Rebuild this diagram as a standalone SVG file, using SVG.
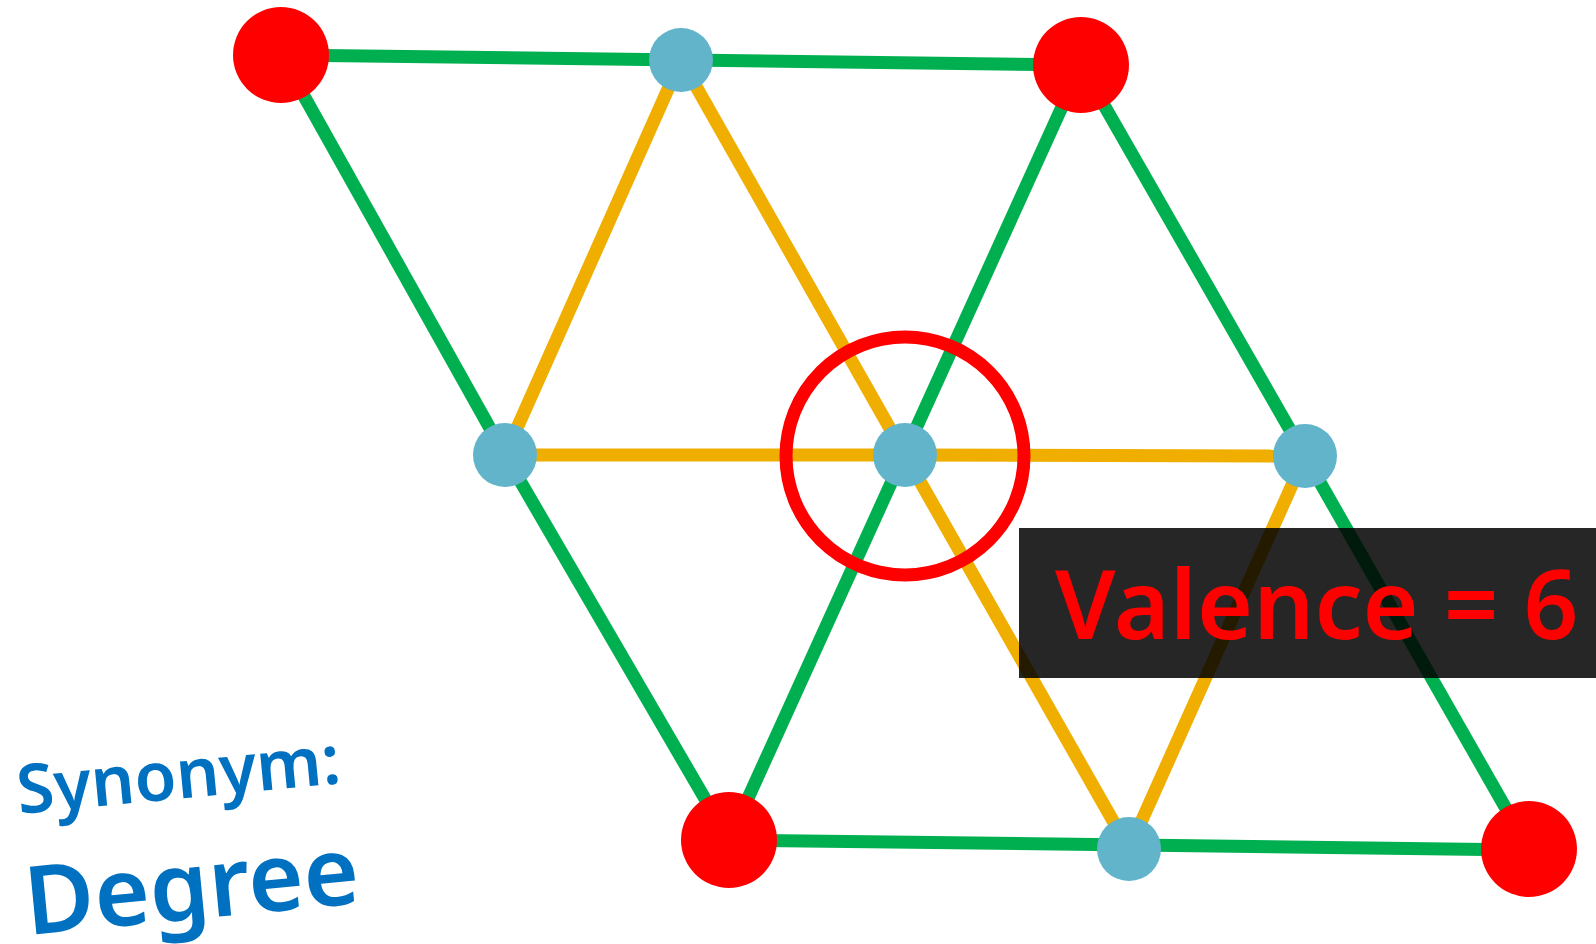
<svg xmlns="http://www.w3.org/2000/svg" width="1596" height="944" viewBox="0 0 1596 944">
<style>
.g{stroke:#00B050;stroke-width:13;fill:none}
.y{stroke:#F0AE00;stroke-width:13;fill:none}
.r{fill:#FF0000}
.b{fill:#62B4CB}
.t{font-family:"Noto Sans","Open Sans","DejaVu Sans",sans-serif;font-weight:600}
.lbl{fill:#0070C0}
</style>
<rect width="1596" height="944" fill="#FFFFFF"/>
<g id="connectors">
<line class="g" x1="281" y1="55" x2="1081" y2="65"/>
<line class="g" x1="281" y1="55" x2="505" y2="455"/>
<line class="g" x1="505" y1="455" x2="729" y2="840"/>
<line class="g" x1="1081" y1="65" x2="729" y2="840"/>
<line class="g" x1="1081" y1="65" x2="1305" y2="456"/>
<line class="g" x1="1305" y1="456" x2="1529" y2="849"/>
<line class="g" x1="729" y1="840" x2="1529" y2="850"/>
<line class="y" x1="681" y1="60" x2="505" y2="455"/>
<line class="y" x1="681" y1="60" x2="905" y2="455"/>
<line class="y" x1="505" y1="455" x2="905" y2="455"/>
<line class="y" x1="905" y1="455" x2="1305" y2="456"/>
<line class="y" x1="905" y1="455" x2="1129" y2="849"/>
<line class="y" x1="1305" y1="456" x2="1129" y2="849"/>
</g>
<g id="highlight">
<circle cx="905" cy="456" r="119" fill="none" stroke="#FF0000" stroke-width="13"/>
</g>
<g id="n-r1"><circle class="r" cx="281" cy="55" r="48"/></g>
<g id="n-b1"><circle class="b" cx="681" cy="60" r="32"/></g>
<g id="n-r2"><circle class="r" cx="1081" cy="65" r="48"/></g>
<g id="n-b2"><circle class="b" cx="505" cy="455" r="32"/></g>
<g id="n-b3"><circle class="b" cx="905" cy="455" r="32"/></g>
<g id="n-b4"><circle class="b" cx="1305" cy="456" r="32"/></g>
<g id="n-r3"><circle class="r" cx="729" cy="840" r="48"/></g>
<g id="n-b5"><circle class="b" cx="1129" cy="849" r="32"/></g>
<g id="n-r4"><circle class="r" cx="1529" cy="849" r="48"/></g>
<g id="valence">
<rect x="1019" y="528" width="577" height="150" fill="#000000" fill-opacity="0.85"/>
<text class="t" x="1055" y="639" font-size="96" fill="#FF0000">Valence = 6</text>
</g>
<g id="synonym">
<text class="t lbl" x="19" y="814" font-size="68" transform="rotate(-5.5 19 814)">Synonym:</text>
<text class="t lbl" x="28" y="935" font-size="95" transform="rotate(-5.5 28 935)">Degree</text>
</g>
</svg>
